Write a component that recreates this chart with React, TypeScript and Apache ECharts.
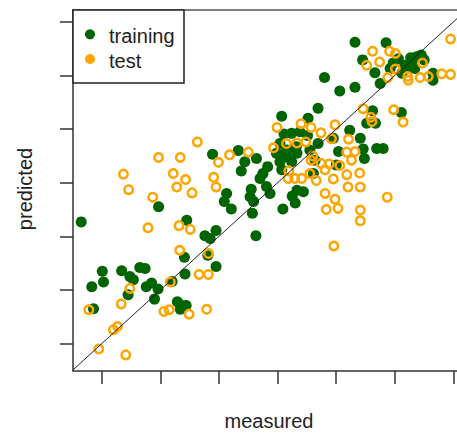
import React, { useEffect, useRef } from "react";
import * as echarts from "echarts";

// [measured, predicted]
const trainingPoints: [number, number][] = [
  [0.65, 3.27], [1.97, 3.55], [2.45, 3.3], [2.76, 3.01], [2.85, 2.96], [2.95, 3.11], [2.89, 4.53], [2.41, 2.61], [2.81, 2.65], [2.95, 2.44],
  [1.01, 2.35], [1.03, 2.15], [0.83, 2.06], [1.34, 2.36], [1.48, 2.25], [1.54, 2.19], [1.65, 2.42], [1.74, 2.4], [1.76, 2.06], [1.85, 2.13],
  [1.96, 2.02], [1.9, 1.83], [1.45, 1.91], [2.42, 2.3], [2.2, 2.16], [2.29, 1.78], [2.37, 1.71], [2.34, 1.64], [2.44, 1.71], [0.86, 1.65],
  [3.13, 3.8], [3.09, 3.65], [3.21, 3.51], [3.33, 4.6], [3.44, 4.39], [3.38, 4.22], [3.64, 4.45], [3.75, 4.17], [3.83, 4.3], [3.7, 4.08],
  [3.55, 3.88], [3.53, 3.74], [3.59, 3.65], [3.57, 3.43], [3.81, 3.93], [3.87, 3.8], [3.63, 3.01],
  [4.07, 5.24], [4.52, 5.2], [4.69, 5.39], [4.11, 4.91], [4.24, 4.92], [4.38, 4.95], [4.51, 4.88], [4.69, 4.73], [4.32, 4.67], [4.33, 4.55],
  [4.07, 4.52], [4.16, 4.48], [4.04, 4.39], [4.24, 4.39], [4.07, 4.24], [4.33, 3.86], [4.44, 3.83], [4.25, 3.75], [4.3, 3.62], [4.09, 3.51],
  [4.04, 4.73], [4.16, 4.61], [4.55, 4.61], [4.61, 4.17], [4.64, 4.42], [3.98, 4.55],
  [4.8, 5.96], [5.06, 5.71], [5.32, 5.78], [4.95, 4.83], [5.04, 4.58], [5.0, 4.33], [5.23, 4.98], [5.41, 4.83], [5.46, 4.63], [5.48, 4.45],
  [5.69, 4.64], [5.8, 4.64],
  [5.32, 6.62], [5.85, 6.61], [5.45, 6.29], [5.66, 6.05], [6.06, 6.31], [6.17, 6.19], [6.27, 6.33], [6.37, 6.35], [6.45, 6.38], [6.5, 6.29],
  [5.97, 6.23], [5.92, 6.13], [6.22, 6.14], [6.34, 6.13], [6.31, 6.24], [5.75, 5.85], [6.12, 6.04], [6.65, 6.04], [6.65, 5.91], [5.62, 5.34],
  [5.52, 5.11], [5.67, 5.11], [6.11, 5.31],
];

const testPoints: [number, number][] = [
  [2.63, 4.76], [1.97, 4.47], [2.34, 4.47], [1.37, 4.16], [2.22, 4.17], [2.43, 4.06], [2.28, 3.92], [1.46, 3.87], [2.54, 3.81], [1.87, 3.73],
  [2.99, 4.38], [2.91, 4.1], [2.95, 3.92], [1.79, 3.16], [2.32, 3.2], [2.51, 3.13], [2.33, 2.74], [2.82, 2.68], [2.66, 2.29], [2.82, 2.29],
  [2.17, 2.15], [1.48, 2.03], [1.33, 1.74], [0.78, 1.63], [2.06, 1.6], [2.15, 1.63], [2.49, 1.55], [2.79, 1.64], [1.27, 1.32], [1.2, 1.26],
  [0.95, 0.9], [1.41, 0.79], [3.18, 4.52], [3.5, 4.57], [3.99, 5.03], [4.4, 5.1], [4.57, 5.03], [4.98, 5.08], [4.74, 4.93], [4.92, 4.82],
  [3.93, 4.65], [4.15, 4.73], [4.33, 4.74], [4.48, 4.76], [5.21, 4.81], [4.6, 4.5], [5.18, 4.57], [5.32, 4.58], [5.26, 4.42], [4.88, 4.35],
  [5.06, 4.32], [4.57, 4.42], [4.74, 4.36], [4.19, 4.22], [4.29, 4.08], [4.41, 4.08], [4.18, 4.08], [4.55, 4.17], [4.81, 4.24], [4.66, 4.04],
  [4.95, 4.07], [5.18, 4.15], [5.4, 4.18], [5.2, 3.92], [5.41, 3.92], [4.81, 3.8], [4.98, 3.69], [5.87, 3.73], [4.83, 3.5], [5.03, 3.52],
  [5.41, 3.49], [5.41, 3.29], [4.96, 2.82], [5.46, 5.38], [5.59, 5.22], [5.61, 5.14], [5.98, 5.36], [6.14, 5.13], [6.95, 6.68], [5.62, 6.45],
  [5.91, 6.45], [6.01, 6.41], [5.52, 6.19], [5.74, 6.25], [6.47, 6.23], [6.01, 6.12], [5.88, 5.96], [6.22, 5.98], [6.23, 5.91], [6.43, 5.96],
  [6.57, 5.98], [6.8, 6.03], [6.95, 6.02],
];

const tickValues = [1, 2, 3, 4, 5, 6, 7];
const xRange = [0.51, 7.06];
const yRange = [0.49, 7.22];
const identityLine: [number, number][] = [
  [0.51, 0.51],
  [7.06, 7.06],
];
const seriesNames = ["training", "test"];
const axisNames = { x: "measured", y: "predicted" };

const GREEN = "#006400";
const ORANGE = "#FFA500";
const FONT = "'Liberation Sans', Arial, sans-serif";
const INK = "#222";

export default function App() {
  const ref = useRef<HTMLDivElement>(null);
  useEffect(() => {
    if (!ref.current) return;
    const chart = echarts.init(ref.current, undefined, { renderer: "svg" });
    const axisLine = { show: true, onZero: false, lineStyle: { color: "#333", width: 1.5 } };
    chart.setOption({
      animation: false,
      backgroundColor: "#fff",
      grid: { left: 73, top: 10, right: 0, bottom: 64 },
      xAxis: [
        {
          type: "value",
          position: "bottom",
          min: xRange[0],
          max: xRange[1],
          axisLine,
          axisTick: {
            show: true,
            length: 13,
            customValues: tickValues,
            lineStyle: { color: "#333", width: 1.5 },
          },
          axisLabel: { show: false },
          splitLine: { show: false },
        },
        {
          type: "value",
          position: "top",
          min: xRange[0],
          max: xRange[1],
          axisLine: { show: true, onZero: false, lineStyle: { color: "#555", width: 1.5 } },
          axisTick: { show: false },
          axisLabel: { show: false },
          splitLine: { show: false },
        },
      ],
      yAxis: [
        {
          type: "value",
          min: yRange[0],
          max: yRange[1],
          axisLine,
          axisTick: {
            show: true,
            length: 13,
            customValues: tickValues,
            lineStyle: { color: "#333", width: 1.5 },
          },
          axisLabel: { show: false },
          splitLine: { show: false },
        },
      ],
      series: [
        {
          name: seriesNames[0],
          type: "scatter",
          data: trainingPoints,
          symbol: "circle",
          symbolSize: 11,
          itemStyle: { color: GREEN, opacity: 1 },
          silent: true,
          z: 2,
        },
        {
          name: seriesNames[1],
          type: "scatter",
          data: testPoints,
          symbol: "circle",
          symbolSize: 8.5,
          itemStyle: { color: "rgba(0,0,0,0)", borderColor: ORANGE, borderWidth: 2.5, opacity: 1 },
          silent: true,
          z: 3,
        },
        {
          type: "line",
          data: identityLine,
          symbol: "none",
          lineStyle: { color: "#222", width: 1 },
          silent: true,
          z: 4,
        },
      ],
      graphic: [
        {
          type: "rect",
          shape: { x: 73, y: 10, width: 111, height: 73 },
          style: { fill: "#fff", stroke: INK, lineWidth: 1.5 },
          z: 100,
        },
        { type: "circle", shape: { cx: 90, cy: 34.3, r: 5 }, style: { fill: GREEN }, z: 101 },
        { type: "circle", shape: { cx: 90, cy: 59, r: 5 }, style: { fill: ORANGE }, z: 101 },
        {
          type: "text",
          x: 109,
          y: 36.3,
          style: { text: seriesNames[0], fontSize: 20, fontFamily: FONT, fill: INK, verticalAlign: "middle", align: "left" },
          z: 101,
        },
        {
          type: "text",
          x: 109,
          y: 61.3,
          style: { text: seriesNames[1], fontSize: 20, fontFamily: FONT, fill: INK, verticalAlign: "middle", align: "left" },
          z: 101,
        },
        {
          type: "text",
          x: 269,
          y: 421,
          style: { text: axisNames.x, fontSize: 20, fontFamily: FONT, fill: INK, verticalAlign: "middle", align: "center" },
        },
        {
          type: "text",
          x: 24.5,
          y: 189,
          rotation: Math.PI / 2,
          style: { text: axisNames.y, fontSize: 20, fontFamily: FONT, fill: INK, verticalAlign: "middle", align: "center" },
        },
      ],
    });
    return () => chart.dispose();
  }, []);
  return (
    <div
      ref={ref}
      style={{ position: "fixed", left: 0, top: 0, width: 457, height: 435, background: "#fff" }}
    />
  );
}
